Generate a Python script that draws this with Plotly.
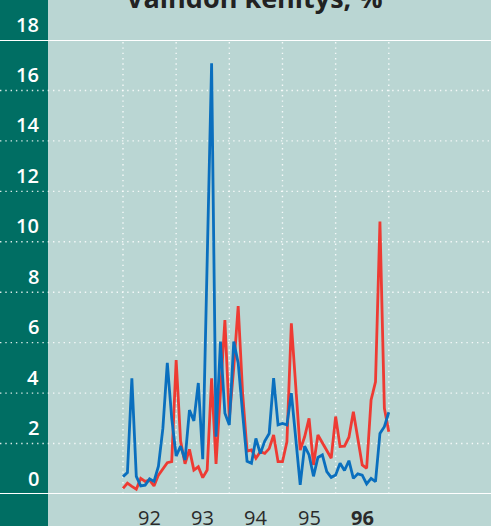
import plotly.graph_objects as go

# Monthly data, Jan 1992 .. Jan 1997 (month index 0..60)
months = list(range(61))
blue_values = [0.69, 0.85, 4.59, 0.7, 0.32, 0.35, 0.6, 0.5, 1.1, 2.6, 5.2, 3.0,
               1.5, 1.9, 1.35, 3.33, 2.9, 4.4, 1.38, 9.6, 17.08, 2.27, 6.04, 3.2,
               2.74, 6.04, 5.2, 3.2, 1.3, 1.22, 2.2, 1.6, 2.1, 2.4, 4.59, 2.74,
               2.8, 2.74, 4.0, 2.2, 0.36, 1.9, 1.55, 0.7, 1.45, 1.55, 0.89, 0.66,
               0.75, 1.22, 0.93, 1.32, 0.62, 0.8, 0.75, 0.4, 0.62, 0.49, 2.4, 2.67,
               3.24]
red_values = [0.22, 0.43, 0.3, 0.19, 0.62, 0.5, 0.55, 0.32, 0.75, 1.0, 1.24, 1.28,
              5.31, 2.1, 1.2, 1.77, 0.95, 1.08, 0.65, 0.95, 4.59, 1.19, 4.0, 6.9,
              3.0, 5.0, 7.45, 4.0, 1.7, 1.75, 1.42, 1.68, 1.61, 1.8, 2.34, 1.28,
              1.28, 2.07, 6.77, 4.1, 1.74, 2.27, 3.0, 1.15, 2.34, 2.03, 1.74, 1.42,
              3.07, 1.88, 1.9, 2.25, 3.26, 2.2, 1.15, 1.02, 3.73, 4.45, 10.8, 3.4,
              2.47]
y_ticks = [0, 2, 4, 6, 8, 10, 12, 14, 16, 18]
year_labels = ["92", "93", "94", "95", "96"]
year_centers = [6, 18, 30, 42, 54]
year_bounds = [0, 12, 24, 36, 48, 60]
title_text = "Vaihdon kehitys, %"

W, H = 491, 526
BG = "#bad6d3"
STRIP = "#006e63"
BLUE = "#0a6fbe"
RED = "#ee3b33"

px_per_month = (388.8 - 123) / 60
x_range = [-123 / px_per_month, 60 + (W - 388.8) / px_per_month]

fig = go.Figure()
fig.add_trace(go.Scatter(x=months, y=red_values, mode="lines",
                         line=dict(color=RED, width=2.8), hoverinfo="skip"))
fig.add_trace(go.Scatter(x=months, y=blue_values, mode="lines",
                         line=dict(color=BLUE, width=2.8), hoverinfo="skip"))

shapes = []
# dark strip on the left
shapes.append(dict(type="rect", xref="paper", yref="paper", x0=0, x1=48 / W,
                   y0=-0.2, y1=1.2, fillcolor=STRIP, line=dict(width=0), layer="below"))
# horizontal dotted gridlines
for v in y_ticks[1:-1]:
    shapes.append(dict(type="line", xref="paper", yref="y", x0=0, x1=1, y0=v, y1=v,
                       line=dict(color="rgba(255,255,255,0.85)", width=1.4, dash="1.4px,3.9px"),
                       layer="below"))
# vertical dotted gridlines
for m in year_bounds:
    shapes.append(dict(type="line", xref="x", yref="y", x0=m, x1=m, y0=0, y1=18,
                       line=dict(color="rgba(255,255,255,0.85)", width=1.4, dash="1.4px,3.9px"),
                       layer="below"))
# solid white lines at 0 and 18
for v in (0, 18):
    shapes.append(dict(type="line", xref="paper", yref="y", x0=0, x1=1, y0=v, y1=v,
                       line=dict(color="white", width=2), layer="above"))

annotations = []
for v in y_ticks:
    annotations.append(dict(text=str(v), xref="paper", yref="y", x=41 / W, y=v,
                            xanchor="right", yanchor="middle", yshift=16, showarrow=False,
                            font=dict(family="Open Sans", size=20, color="white", weight=600)))
for lab, c in zip(year_labels, year_centers):
    annotations.append(dict(text=lab, xref="x", yref="paper", x=c, y=0,
                            xanchor="center", yanchor="middle", yshift=-23, showarrow=False,
                            font=dict(family="Open Sans", size=20, color="#2a2a2a",
                                      weight=700 if lab == "96" else 400)))
annotations.append(dict(text=title_text, xref="paper", yref="paper", x=254 / W, y=1,
                        xanchor="center", yanchor="bottom", yshift=22, showarrow=False,
                        font=dict(family="Open Sans", size=27, color="#222222", weight=700)))

fig.update_layout(
    width=W, height=H,
    margin=dict(l=0, r=0, t=40, b=32, pad=0),
    paper_bgcolor=BG, plot_bgcolor=BG,
    showlegend=False,
    xaxis=dict(range=x_range, visible=False, fixedrange=True),
    yaxis=dict(range=[0, 18], visible=False, fixedrange=True),
    shapes=shapes, annotations=annotations,
)

fig.write_html("out.html", config={"displayModeBar": False},
               post_script="document.body.style.margin='0';document.body.style.overflow='hidden';")
